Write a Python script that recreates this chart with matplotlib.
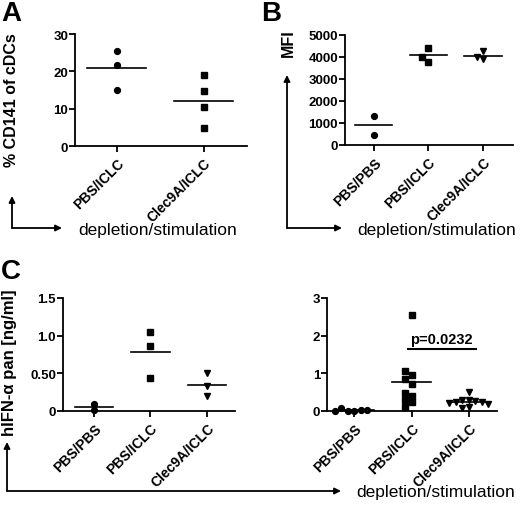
import numpy as np
import matplotlib
matplotlib.use('Agg')
import matplotlib.pyplot as plt

plt.rcParams['font.family'] = ['Liberation Sans', 'DejaVu Sans']

# ---- data ----
a_groups = ['PBS/ICLC', 'Clec9A/ICLC']
a_pbs_iclc = [25.5, 21.7, 15.1]
a_clec_iclc = [19.0, 14.6, 10.4, 4.7]

b_groups = ['PBS/PBS', 'PBS/ICLC', 'Clec9A/ICLC']
b_pbs_pbs = [1305, 470]
b_pbs_iclc = [4424, 3773, 4015]
b_clec_iclc = [3910, 4015, 4260]

c_groups = ['PBS/PBS', 'PBS/ICLC', 'Clec9A/ICLC']
c1_pbs_pbs = [0.09, 0.01]
c1_pbs_iclc = [1.05, 0.86, 0.44]
c1_clec_iclc = [0.50, 0.33, 0.20]

c2_pbs_pbs = [0.01, 0.01, 0.02, 0.09, 0.03, 0.01]
c2_pbs_iclc = [2.54, 0.96, 1.05, 0.84, 0.72, 0.41, 0.48, 0.24, 0.28, 0.11]
c2_clec_iclc = [0.50, 0.30, 0.28, 0.27, 0.25, 0.24, 0.22, 0.18, 0.10, 0.08]
p_text = 'p=0.0232'

W, H = 520, 506
fig = plt.figure(figsize=(W / 100, H / 100), dpi=100)


def make_axes(l, r, t, b):
    return fig.add_axes([l / W, 1 - b / H, (r - l) / W, (b - t) / H])


def style(ax, groups, ylim, yticks, ylabels, xlim):
    ax.set_xlim(*xlim)
    ax.set_ylim(*ylim)
    for s in ['top', 'right']:
        ax.spines[s].set_visible(False)
    for s in ['left', 'bottom']:
        ax.spines[s].set_linewidth(1.3)
    ax.set_yticks(yticks)
    ax.set_yticklabels(ylabels, fontsize=9.5, fontweight='bold')
    ax.set_xticks(range(len(groups)))
    ax.set_xticklabels(groups, fontsize=10, fontweight='bold', rotation=45,
                       ha='right', va='top', rotation_mode='anchor')
    ax.tick_params(axis='both', length=4, width=1.3, pad=1)
    ax.tick_params(axis='x', pad=3)


def swarm(ax, xc, vals, step=6.5, thr=6.0):
    # greedy placement, spreading points that would overlap
    placed = []
    xs = []
    inv = ax.transData.inverted()
    for v in vals:
        x0, y0 = ax.transData.transform((xc, v))
        for k in range(0, 30):
            off = ((k + 1) // 2) * (1 if k % 2 else -1) if k else 0
            off = -off
            px = x0 + off * step
            if all(abs(px - qx) >= step - 0.1 or abs(y0 - qy) >= thr for qx, qy in placed):
                break
        placed.append((px, y0))
        xs.append(inv.transform((px, y0))[0])
    return xs


def dots(ax, xc, vals, marker, ms=4.2):
    xs = swarm(ax, xc, vals)
    ax.plot(xs, vals, linestyle='none', marker=marker, color='black',
            markersize=ms, clip_on=False)
    m = np.mean(vals)
    ax.plot([xc - 0.34, xc + 0.34], [m, m], color='black', lw=1.2)


# ---- panel A ----
axA = make_axes(75, 247, 35, 147)
style(axA, a_groups, (0, 30), [0, 10, 20, 30], ['0', '10', '20', '30'], (-0.48, 1.5))
dots(axA, 0, a_pbs_iclc, 'o')
dots(axA, 1, a_clec_iclc, 's')

# ---- panel B ----
axB = make_axes(345, 513, 36, 146)
style(axB, b_groups, (0, 5000), [0, 1000, 2000, 3000, 4000, 5000],
      ['0', '1000', '2000', '3000', '4000', '5000'], (-0.53, 2.55))
dots(axB, 0, b_pbs_pbs, 'o')
dots(axB, 1, b_pbs_iclc, 's')
dots(axB, 2, b_clec_iclc, 'v')

# ---- panel C left ----
axC1 = make_axes(63, 235, 299, 412)
style(axC1, c_groups, (0, 1.5), [0, 0.5, 1.0, 1.5], ['0', '0.50', '1.0', '1.5'], (-0.55, 2.5))
dots(axC1, 0, c1_pbs_pbs, 'o')
dots(axC1, 1, c1_pbs_iclc, 's')
dots(axC1, 2, c1_clec_iclc, 'v')

# ---- panel C right ----
axC2 = make_axes(327, 497, 299, 412)
style(axC2, c_groups, (0, 3), [0, 1, 2, 3], ['0', '1', '2', '3'], (-0.48, 2.49))
dots(axC2, 0, c2_pbs_pbs, 'o')
dots(axC2, 1, c2_pbs_iclc, 's')
dots(axC2, 2, c2_clec_iclc, 'v')
axC2.text(1.52, 1.92, p_text, ha='center', va='center', fontsize=10.5, fontweight='bold')
axC2.plot([0.93, 2.12], [1.65, 1.65], color='black', lw=1.5)

# ---- overlay: panel letters, axis titles, arrows ----
ov = fig.add_axes([0, 0, 1, 1], zorder=-1)
ov.set_xlim(0, W)
ov.set_ylim(H, 0)
ov.axis('off')


def l_arrow(x, y0, y1, x1):
    ap = dict(arrowstyle='-|>', lw=1.3, color='black', mutation_scale=9,
              shrinkA=0, shrinkB=0)
    ov.annotate('', xy=(x, y1), xytext=(x, y0), arrowprops=ap)
    ov.annotate('', xy=(x1, y0), xytext=(x, y0), arrowprops=ap)


for letter, (lx, ly) in {'A': (1, 1), 'B': (261, 1), 'C': (1, 259)}.items():
    ov.text(lx, ly, letter, fontsize=20, fontweight='bold', ha='left', va='top')

ov.text(12, 100, '% CD141 of cDCs', rotation=90, ha='center', va='center',
        fontsize=11.5, fontweight='bold')
ov.text(288.5, 43.5, 'MFI', rotation=90, ha='center', va='center',
        fontsize=11.5, fontweight='bold')
ov.text(9.5, 363, 'hIFN-α pan [ng/ml]', rotation=90, ha='center', va='center',
        fontsize=12, fontweight='bold')

l_arrow(12, 229, 197, 62)
l_arrow(287, 229, 76, 342)
l_arrow(7, 492, 443, 341)

ov.text(78, 231, 'depletion/stimulation', ha='left', va='center', fontsize=12.5)
ov.text(357, 231, 'depletion/stimulation', ha='left', va='center', fontsize=12.5)
ov.text(356, 493, 'depletion/stimulation', ha='left', va='center', fontsize=12.5)

fig.savefig('out.png', dpi=100)
